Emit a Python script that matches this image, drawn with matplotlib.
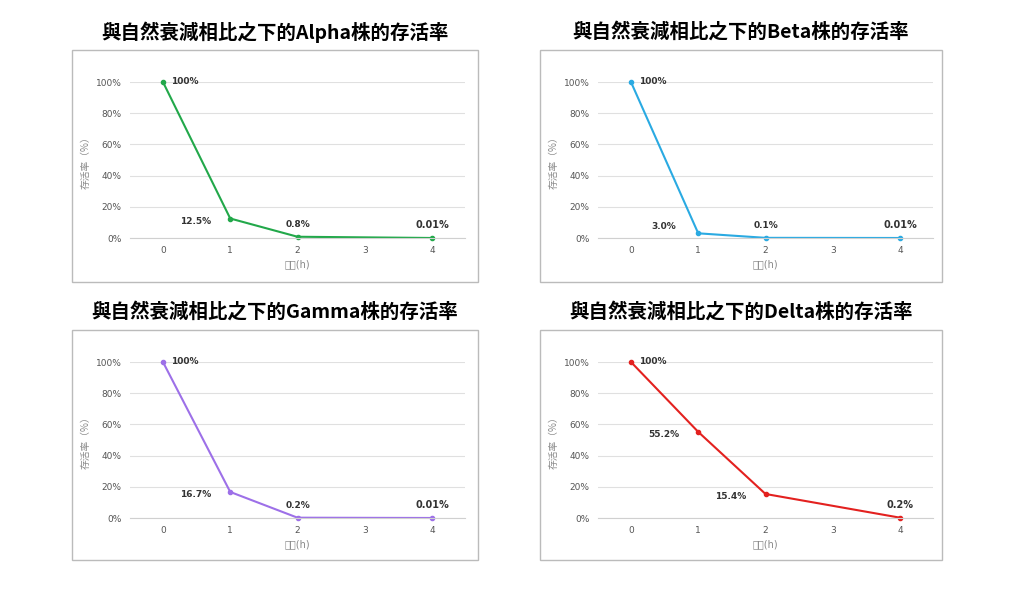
import matplotlib
matplotlib.use("Agg")
import matplotlib.pyplot as plt
from matplotlib.patches import Rectangle
from matplotlib import font_manager

cjk = [f.name for f in font_manager.fontManager.ttflist if "CJK" in f.name]
pref = [n for n in ["Noto Sans CJK TC", "Noto Sans CJK SC", "Noto Sans CJK JP"] if n in cjk] or cjk
plt.rcParams["font.family"] = "sans-serif"
plt.rcParams["font.sans-serif"] = ["DejaVu Sans"] + pref[:1]

hours = [0, 1, 2, 4]
titles = ["與自然衰減相比之下的Alpha株的存活率", "與自然衰減相比之下的Beta株的存活率",
          "與自然衰減相比之下的Gamma株的存活率", "與自然衰減相比之下的Delta株的存活率"]
alpha = [100, 12.5, 0.8, 0.01]
beta = [100, 3.0, 0.1, 0.01]
gamma = [100, 16.7, 0.2, 0.01]
delta = [100, 55.2, 15.4, 0.2]
labels = [["100%", "12.5%", "0.8%", "0.01%"], ["100%", "3.0%", "0.1%", "0.01%"],
          ["100%", "16.7%", "0.2%", "0.01%"], ["100%", "55.2%", "15.4%", "0.2%"]]
colors = ["#22a84a", "#2aaae2", "#9d70e8", "#e3211f"]
series = [alpha, beta, gamma, delta]
yticks = [0, 20, 40, 60, 80, 100]

W, H = 1024, 589
fig = plt.figure(figsize=(W / 100, H / 100), dpi=100)

boxes = [(72, 50, 478, 282), (540, 50, 942, 282), (72, 330, 478, 560), (540, 330, 942, 560)]
for i, (x0, y0, x1, y1) in enumerate(boxes):
    fig.patches.append(Rectangle((x0 / W, 1 - y1 / H), (x1 - x0) / W, (y1 - y0) / H,
                                 transform=fig.transFigure, fill=False, ec="#bbbbbb", lw=1))
    fig.text((x0 + x1) / 2 / W, 1 - (y0 - 18) / H, titles[i], ha="center", va="center",
             fontsize=14, fontweight="bold", family=pref[:1] + ["DejaVu Sans"])
    top = y0 + 32
    bot = y0 + 188
    ax = fig.add_axes([(x0 + 58) / W, 1 - bot / H, 335 / W, (bot - top) / H])
    ax.set_xlim(-0.49, 4.49)
    ax.set_ylim(0, 100)
    ax.set_xticks(range(5))
    ax.set_yticks(yticks)
    ax.set_yticklabels([f"{t}%" for t in yticks])
    ax.grid(axis="y", color="#e0e0e0", lw=0.8)
    for s in ["top", "right", "left"]:
        ax.spines[s].set_visible(False)
    ax.spines["bottom"].set_color("#d0d0d0")
    ax.tick_params(length=0, labelsize=6.5, labelcolor="#555555", pad=6)
    ax.plot(hours, series[i], color=colors[i], lw=1.5, marker="o", ms=3, clip_on=False)
    for j, (h, v) in enumerate(zip(hours, series[i])):
        if j == 0:
            ax.annotate(labels[i][j], (h, v), xytext=(6, 0), textcoords="offset points",
                        ha="left", va="center", fontsize=6.5, fontweight="bold", color="#333333")
        elif j == 1 or v >= 5:
            ax.annotate(labels[i][j], (h, v), xytext=(-25, 5 if v < 5 else -2),
                        textcoords="offset points",
                        ha="center", va="center", fontsize=6.5, fontweight="bold", color="#333333")
        else:
            ax.annotate(labels[i][j], (h, v), xytext=(0, 9), textcoords="offset points",
                        ha="center", va="center", fontsize=7 if j == 3 else 6.5,
                        fontweight="bold", color="#333333")
    ax.set_xlabel("小時(h)", fontsize=7, color="#888888", labelpad=3)
    ax.set_ylabel("存活率（%）", fontsize=7, color="#888888", labelpad=4,
                  family=pref[:1] + ["DejaVu Sans"])

fig.savefig("out.png", dpi=100)
